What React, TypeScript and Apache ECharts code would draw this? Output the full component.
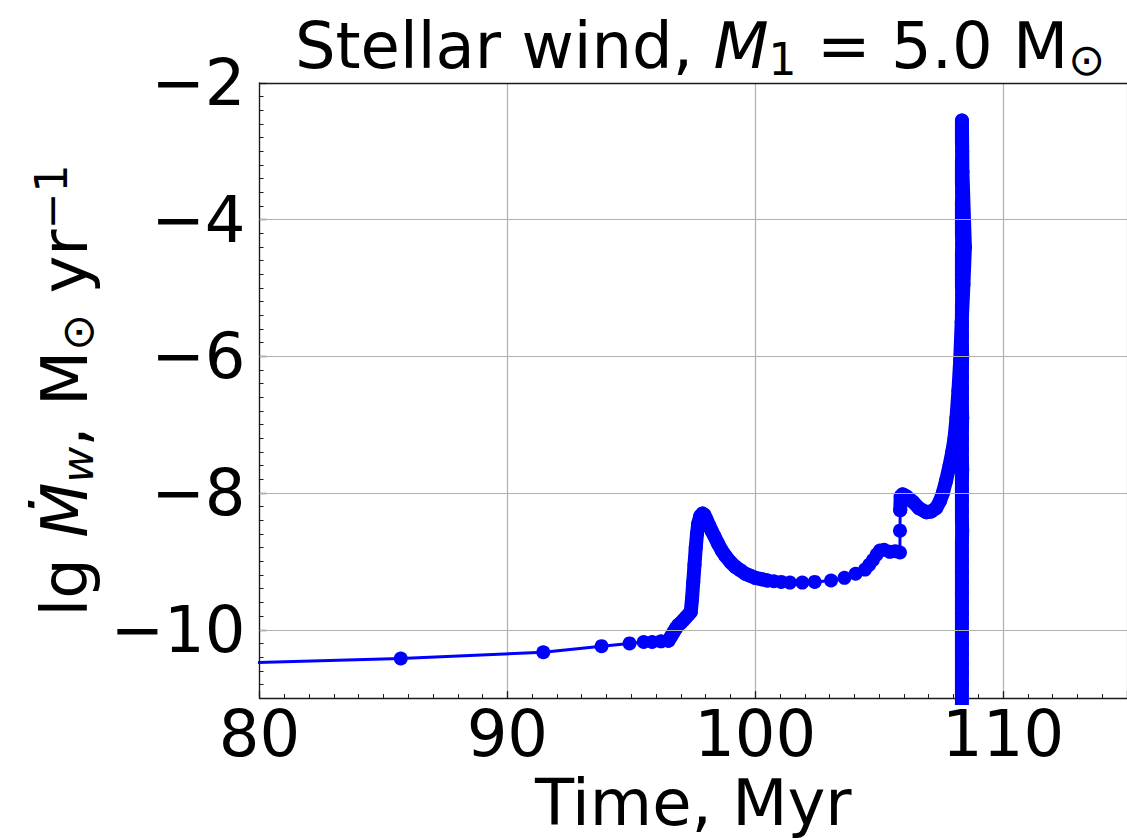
import React, { useEffect, useRef } from "react";
import * as echarts from "echarts";

// Time (Myr) and lg of wind mass-loss rate (Msun/yr)
const timeMyr = [
  73.0, 85.7, 91.45, 93.8, 94.93, 95.5, 95.84, 96.2, 96.5, 96.6,
  96.7, 96.8, 96.9, 97.0, 97.1, 97.2, 97.3, 97.4, 97.45, 97.5,
  97.55, 97.6, 97.65, 97.7, 97.78, 97.87, 97.95, 98.05, 98.15, 98.25,
  98.35, 98.5, 98.65, 98.8, 99.0, 99.2, 99.4, 99.6, 99.8, 100.0,
  100.25, 100.5, 100.75, 101.05, 101.4, 101.9, 102.4, 103.06, 103.6, 104.05,
  104.43, 104.6, 104.75, 104.9, 105.03, 105.2, 105.43, 105.65, 105.84, 105.84,
  105.85, 105.87, 105.95, 106.1, 106.37, 106.6, 106.9, 107.1, 107.3, 107.45,
  107.57, 107.7, 107.84, 107.95, 108.04, 108.12, 108.2, 108.27, 108.33, 108.4,
  108.46, 108.36, 108.34,
  108.34, 108.34, 108.35, 108.34, 108.34, 108.34, 108.35, 108.34, 108.34, 108.34,
  108.34, 108.35, 108.34, 108.34, 108.34, 108.34, 108.35, 108.34, 108.34, 108.34,
  108.34, 108.34, 108.35, 108.34, 108.34, 108.34, 108.34, 108.34, 108.35, 108.34,
  108.34, 108.34, 108.34, 108.35, 108.34, 108.34, 108.34, 108.34, 108.34, 108.35,
  108.34, 108.34, 108.34, 108.34, 108.34, 108.34, 108.34, 108.34, 108.34, 108.34,
  108.34, 108.34, 108.34, 108.34, 108.34, 108.34,
];
const lgMdot = [
  -10.55, -10.42, -10.33, -10.24, -10.2, -10.18, -10.18, -10.17, -10.16, -10.1,
  -10.04, -9.98, -9.93, -9.9, -9.86, -9.82, -9.78, -9.74, -9.55, -9.3,
  -9.05, -8.8, -8.6, -8.45, -8.34, -8.3, -8.32, -8.4, -8.48, -8.56,
  -8.63, -8.74, -8.84, -8.92, -9.01, -9.08, -9.13, -9.18, -9.21, -9.24,
  -9.26, -9.28, -9.29, -9.3, -9.31, -9.31, -9.3, -9.28, -9.24, -9.18,
  -9.12, -9.05, -8.98, -8.9, -8.84, -8.83, -8.86, -8.85, -8.87, -8.55,
  -8.25, -8.05, -8.02, -8.05, -8.13, -8.22, -8.28, -8.27, -8.22, -8.12,
  -8.0, -7.82, -7.6, -7.4, -7.2, -6.9, -6.5, -6.05, -5.5, -4.95,
  -4.4, -3.3, -2.55,
  -2.7, -2.86, -3.0, -3.17, -3.31, -3.46, -3.6, -3.76, -3.9, -4.06,
  -4.2, -4.36, -4.5, -4.66, -4.8, -4.96, -5.1, -5.26, -5.4, -5.55,
  -5.7, -5.86, -6.0, -6.15, -6.3, -6.46, -6.6, -6.76, -6.9, -7.05,
  -7.2, -7.36, -7.5, -7.66, -7.8, -7.95, -8.1, -8.26, -8.4, -8.55,
  -8.7, -8.86, -9.0, -9.16, -9.3, -9.45, -9.6, -9.76, -9.9, -10.05,
  -10.2, -10.35, -10.5, -10.63, -10.8, -11.1,
];
// index ranges [start, end) where the markers are so dense that they merge
const denseRanges = [
  [8, 42],
  [60, timeMyr.length],
];
const xMin = 80;
const xMax = 115;
const yMin = -11;
const yMax = -2;
const yMajorTicks = [-10, -8, -6, -4, -2];
const yGridValues = [-10, -8, -6, -4];

const FONT = "DejaVu Sans";
const BLUE = "#0000ff";
const GRID = "#b0b0b0";
const SPINE = "#1a1a1a";
const MARKER = 14;

export default function App() {
  const ref = useRef<HTMLDivElement>(null);

  useEffect(() => {
    const chart = echarts.init(ref.current as HTMLDivElement, null, { renderer: "svg" });
    const data = timeMyr.map((t, i) => [t, lgMdot[i]]);
    const minus = (v: number) => (v < 0 ? "\u2212" : "") + Math.abs(v);

    const n = { fontFamily: FONT, fontSize: 64, lineHeight: 70, color: "#000", fontWeight: "normal" };
    const it = { ...n, fontStyle: "italic" };
    const sub = { fontFamily: FONT, fontSize: 44, lineHeight: 34, verticalAlign: "bottom", color: "#000", fontWeight: "normal" };
    const subIt = { ...sub, fontStyle: "italic" };
    const sup = { fontFamily: FONT, fontSize: 44, lineHeight: 40, verticalAlign: "top", color: "#000", fontWeight: "normal" };

    const ribbons = denseRanges.map(([a, b]) => ({
      type: "line",
      xAxisIndex: 0,
      yAxisIndex: 0,
      data: data.slice(a, b),
      z: 2,
      symbol: "none",
      silent: true,
      clip: true,
      lineStyle: { color: BLUE, width: MARKER, cap: "round", join: "round" },
      emphasis: { disabled: true },
    }));

    chart.setOption({
      animation: false,
      backgroundColor: "#ffffff",
      title: {
        text: "{n|Stellar wind, }{i|M}{sub|1}{n| = 5.0 M}{sub|\u2299}",
        left: 695,
        top: 6,
        textAlign: "center",
        textStyle: { fontWeight: "normal", fontFamily: FONT, fontSize: 64, rich: { n, i: it, sub } },
      },
      grid: { left: 259.5, top: 83, right: -5, bottom: 138 },
      xAxis: [
        {
          type: "value",
          min: xMin,
          max: xMax,
          interval: 10,
          position: "bottom",
          name: "Time, Myr",
          nameLocation: "middle",
          nameGap: 72,
          nameTextStyle: { fontFamily: FONT, fontSize: 64, color: "#000" },
          axisLine: { show: true, lineStyle: { color: SPINE, width: 1.3 } },
          axisTick: { show: true, inside: true, length: 7, lineStyle: { color: SPINE, width: 1.3 } },
          minorTick: { show: true, splitNumber: 10, length: 4, lineStyle: { color: SPINE, width: 1 } },
          axisLabel: {
            fontFamily: FONT,
            fontSize: 64,
            color: "#000",
            margin: 4,
            showMaxLabel: false,
          },
          splitLine: { show: true, lineStyle: { color: GRID, width: 1.2 } },
        },
        {
          type: "value",
          min: xMin,
          max: xMax,
          position: "top",
          axisLine: { show: true, lineStyle: { color: SPINE, width: 1.3 } },
          axisTick: { show: false },
          axisLabel: { show: false },
          splitLine: { show: false },
        },
      ],
      yAxis: [
        {
          type: "value",
          min: yMin,
          max: yMax,
          interval: 1,
          position: "left",
          name: "{n|lg }{i|\u1E40}{subIt|w}{n|, M}{sub|\u2299}{n| yr}{sup|\u22121}",
          nameLocation: "middle",
          nameRotate: 90,
          nameGap: 150,
          nameTextStyle: { rich: { n, i: it, sub, subIt, sup } },
          axisLine: { show: true, lineStyle: { color: SPINE, width: 1.3 } },
          axisTick: { show: true, inside: true, length: 4, lineStyle: { color: SPINE, width: 1 } },
          minorTick: { show: true, splitNumber: 5, length: 4, lineStyle: { color: SPINE, width: 1 } },
          axisLabel: {
            fontFamily: FONT,
            fontSize: 64,
            color: "#000",
            margin: 14,
            formatter: (v: number) => (Math.abs(v % 2) === 0 ? minus(v) : ""),
          },
          splitLine: { show: false },
        },
        {
          type: "value",
          min: yMin,
          max: yMax,
          interval: 1,
          position: "left",
          axisLine: { show: false },
          axisTick: {
            show: true,
            inside: true,
            length: 7,
            customValues: yMajorTicks,
            lineStyle: { color: SPINE, width: 1.3 },
          },
          axisLabel: { show: false },
          splitLine: { show: false },
        },
      ],
      series: [
        {
          type: "line",
          xAxisIndex: 0,
          yAxisIndex: 0,
          data: [],
          z: 1,
          silent: true,
          markLine: {
            silent: true,
            symbol: "none",
            animation: false,
            label: { show: false },
            lineStyle: { color: GRID, width: 1.2, type: "solid" },
            data: yGridValues.map((y) => ({ yAxis: y })),
          },
        },
        ...ribbons,
        {
          type: "line",
          xAxisIndex: 0,
          yAxisIndex: 0,
          data,
          z: 3,
          symbol: "circle",
          symbolSize: MARKER,
          showSymbol: true,
          showAllSymbol: true,
          clip: true,
          itemStyle: { color: BLUE },
          lineStyle: { color: BLUE, width: 3 },
          emphasis: { disabled: true },
        },
      ],
    });

    return () => chart.dispose();
  }, []);

  return (
    <div
      ref={ref}
      style={{ position: "fixed", left: 0, top: 0, width: 1127, height: 840, background: "#fff" }}
    />
  );
}
